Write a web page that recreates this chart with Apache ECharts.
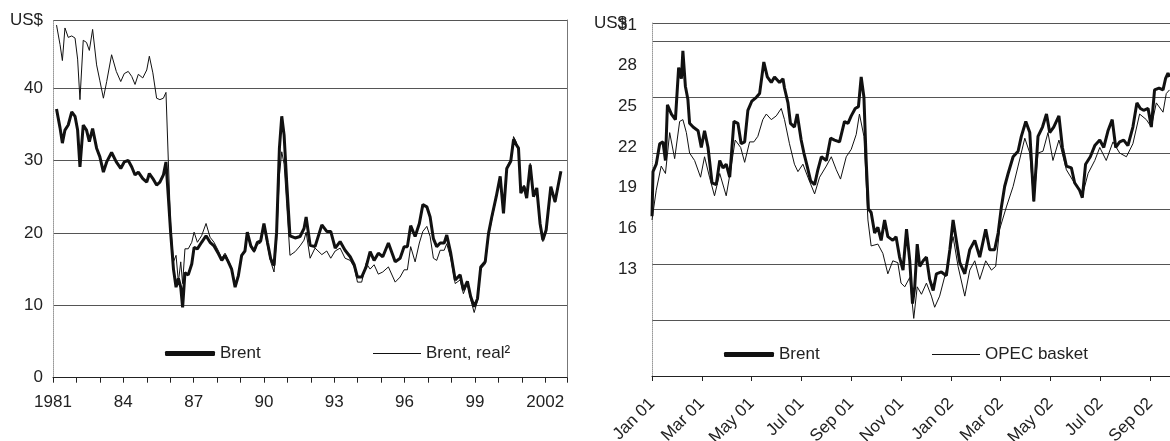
<!DOCTYPE html>
<html><head><meta charset="utf-8">
<script src="https://cdn.jsdelivr.net/npm/echarts@6/dist/echarts.min.js"></script>
<style>html,body{margin:0;padding:0;background:#fff}#c{width:1170px;height:441px}</style>
</head><body><div id="c"></div>
<script>
// ---------- Left chart: Brent, nominal and real (US$), 1981-2002 ----------
const leftTimes = [
  1981.15,1981.3,1981.4,1981.51,1981.65,1981.8,1981.94,
  1982.05,1982.15,1982.29,1982.43,1982.55,1982.69,1982.86,
  1983.0,1983.15,1983.29,1983.5,1983.7,1983.89,
  1984.04,1984.21,1984.36,1984.5,1984.64,1984.83,
  1985.0,1985.11,1985.26,1985.42,1985.56,1985.71,1985.82,1985.92,
  1986.02,1986.14,1986.25,1986.35,1986.45,1986.53,1986.63,1986.77,1986.92,
  1987.02,1987.16,1987.34,1987.53,1987.7,1987.87,
  1988.06,1988.2,1988.34,1988.48,1988.62,1988.77,1988.91,
  1989.05,1989.19,1989.29,1989.44,1989.58,1989.72,1989.86,
  1990.0,1990.15,1990.29,1990.43,1990.54,1990.66,1990.76,1990.86,1990.97,
  1991.11,1991.33,1991.54,1991.71,1991.8,1991.97,
  1992.18,1992.47,1992.68,1992.85,
  1993.04,1993.25,1993.46,1993.68,1993.85,1993.99,
  1994.17,1994.36,1994.53,1994.7,1994.88,
  1995.07,1995.31,1995.6,1995.81,1995.98,
  1996.12,1996.26,1996.45,1996.63,1996.78,1996.95,
  1997.09,1997.23,1997.37,1997.52,1997.69,1997.8,1997.97,
  1998.16,1998.37,1998.51,1998.68,1998.82,1998.97,
  1999.11,1999.25,1999.44,1999.58,1999.72,1999.91,
  2000.08,2000.22,2000.36,2000.53,2000.65,2000.76,2000.86,2000.96,
  2001.1,2001.21,2001.36,2001.5,2001.64,2001.78,2001.9,
  2002.04,2002.24,2002.42,2002.67
];
const brentNominal = [
  37.1,34.5,32.4,34.2,34.9,36.7,36.1,
  34.2,29.1,34.9,34.2,32.6,34.4,31.7,
  30.5,28.4,29.8,31.1,29.8,28.9,
  29.8,30.0,29.1,28.0,28.4,27.5,
  27.0,28.2,27.5,26.6,27.0,28.0,29.8,25.0,
  20.0,15.0,12.5,13.7,12.5,9.7,14.5,14.2,15.7,
  18.0,17.8,18.7,19.6,18.7,18.2,
  17.1,16.2,16.9,16.0,15.0,12.5,14.1,
  16.9,17.5,20.1,18.2,17.5,18.7,18.9,
  21.3,18.7,16.4,15.5,20.1,31.7,36.1,33.5,27.0,
  19.6,19.3,19.5,20.6,22.2,18.3,
  18.1,21.1,20.2,20.2,
  17.9,18.8,17.6,16.7,15.6,13.9,
  13.9,15.3,17.4,16.2,17.2,
  16.7,18.6,16.0,16.5,18.1,
  18.1,21.0,19.5,21.3,23.9,23.6,
  22.2,19.2,18.1,18.6,18.6,19.7,17.2,
  13.5,14.2,12.1,13.3,11.2,9.8,
  10.9,15.3,16.0,19.9,22.2,25.0,
  27.8,22.7,28.9,29.9,32.9,32.2,31.7,25.5,
  26.4,24.8,29.4,25.0,26.2,21.3,19.0,
  20.4,26.4,24.3,28.5
];
const brentReal = [
  48.7,46.0,43.8,48.3,47.0,47.2,46.9,
  44.0,38.4,46.6,46.3,45.2,48.1,43.2,
  41.0,38.6,40.9,44.6,42.3,40.9,
  42.0,42.3,41.6,40.5,41.9,41.4,
  42.5,44.4,42.1,38.6,38.4,38.6,39.4,30.0,
  21.0,16.0,16.9,13.2,16.0,13.0,17.8,17.8,18.7,
  20.1,18.7,19.6,21.3,19.4,18.7,
  17.5,16.5,17.2,16.2,15.2,12.8,14.3,
  17.0,17.6,20.0,18.0,17.3,18.4,18.6,
  20.8,18.2,16.0,14.6,19.0,28.0,31.2,29.5,24.0,
  16.9,17.4,18.2,19.0,20.1,16.5,
  17.9,17.0,17.5,16.5,
  17.5,17.9,16.5,16.2,15.3,13.2,
  13.2,15.8,15.0,15.6,14.3,
  14.6,15.3,13.2,13.9,14.9,
  14.9,18.1,16.0,18.6,20.2,20.9,
  19.5,16.5,16.2,17.6,17.6,18.5,16.5,
  13.0,13.5,11.6,13.0,10.8,9.0,
  10.6,15.0,15.7,19.5,21.8,24.8,
  27.6,23.0,29.0,30.2,33.3,32.6,31.5,25.6,
  26.6,25.0,29.6,25.3,26.0,21.0,18.8,
  20.2,26.2,24.2,28.3
];
const leftYTicks = [0, 10, 20, 30, 40];
const leftXLabelYears = [1981, 1984, 1987, 1990, 1993, 1996, 1999, 2002];
const leftXLabels = ['1981', '84', '87', '90', '93', '96', '99', '2002'];

// ---------- Right chart: Brent and OPEC basket, Jan 2001 - Sep 2002 (months since Jan 01) ----------
const brentMonths = [
  0.00,0.04,0.17,0.31,0.44,0.54,0.62,0.78,0.94,1.07,
  1.18,1.24,1.34,1.44,1.51,1.65,1.85,1.98,2.11,2.25,
  2.41,2.58,2.72,2.85,2.98,3.12,3.29,3.45,3.58,3.72,
  3.85,4.01,4.19,4.32,4.49,4.63,4.79,4.92,5.12,5.26,
  5.32,5.46,5.56,5.72,5.83,5.99,6.10,6.23,6.37,6.53,
  6.66,6.80,7.00,7.17,7.33,7.53,7.73,7.87,8.00,8.16,
  8.29,8.40,8.51,8.60,8.69,8.80,8.94,9.07,9.20,9.34,
  9.47,9.67,9.80,9.94,10.08,10.22,10.35,10.46,10.55,10.65,
  10.75,10.89,11.02,11.15,11.29,11.42,11.62,11.82,11.96,12.09,
  12.22,12.36,12.56,12.76,12.96,13.16,13.40,13.56,13.76,13.90,
  14.03,14.16,14.30,14.50,14.70,14.83,15.01,15.17,15.33,15.50,
  15.68,15.84,15.97,16.13,16.34,16.48,16.64,16.84,16.97,17.17,
  17.28,17.41,17.60,17.78,17.98,18.14,18.31,18.48,18.62,18.78,
  18.94,19.11,19.31,19.47,19.61,19.74,19.92,20.05,20.18,20.36,
  20.52,20.62,20.72,20.78
];
const brentPrices = [
  21.6,24.0,24.4,25.5,25.6,24.6,27.6,27.1,26.8,29.6,
  29.0,30.5,28.6,27.9,26.6,26.4,26.2,25.3,26.2,25.3,
  23.4,23.3,24.6,24.2,24.4,23.7,26.7,26.6,25.5,25.6,
  27.3,27.8,28.0,28.2,29.9,29.1,28.8,29.1,28.8,29.0,
  28.5,27.7,26.6,26.4,27.1,25.7,25.0,24.3,23.5,23.3,
  24.1,24.8,24.6,25.8,25.7,25.6,26.7,26.6,27.0,27.4,
  27.5,29.1,28.0,24.6,22.0,21.8,20.7,21.0,20.3,21.4,
  20.5,20.3,20.5,19.4,18.7,20.9,19.2,16.9,17.8,20.1,
  18.9,19.2,19.4,18.2,17.6,18.5,18.6,18.4,19.8,21.4,
  20.3,19.1,18.5,19.8,20.3,19.4,20.9,19.8,19.8,20.7,
  22.1,23.2,23.9,24.8,25.1,25.9,26.7,26.1,22.4,25.9,
  26.4,27.1,26.1,26.4,27.0,25.3,24.3,24.2,23.4,23.0,
  22.6,24.4,24.8,25.4,25.7,25.3,26.2,26.8,25.3,25.6,
  25.7,25.4,26.4,27.7,27.4,27.3,27.4,26.4,28.4,28.5,
  28.4,29.0,29.3,29.1
];
const opecMonths = [
  0.00,0.17,0.37,0.54,0.71,0.91,1.11,1.24,1.38,1.51,
  1.71,1.95,2.11,2.31,2.51,2.72,2.98,3.16,3.34,3.56,
  3.72,3.92,4.09,4.25,4.45,4.59,4.79,4.99,5.19,5.32,
  5.52,5.72,5.86,6.06,6.26,6.53,6.73,7.00,7.20,7.40,
  7.57,7.80,8.00,8.20,8.33,8.51,8.67,8.80,9.07,9.27,
  9.47,9.67,9.87,10.00,10.15,10.35,10.51,10.65,10.82,11.02,
  11.22,11.35,11.55,11.82,12.09,12.29,12.56,12.76,12.96,13.16,
  13.40,13.63,13.80,13.96,14.23,14.50,14.70,14.97,15.17,15.33,
  15.50,15.70,15.90,16.10,16.34,16.64,16.91,17.17,17.28,17.51,
  17.78,17.98,18.24,18.51,18.78,19.05,19.31,19.58,19.85,20.05,
  20.25,20.52,20.65,20.78
];
const opecPrices = [
  21.4,23.0,24.3,23.9,26.1,24.7,26.7,26.8,26.1,25.0,
  24.6,23.7,24.8,23.7,22.7,23.9,22.7,24.1,25.7,25.3,
  24.5,25.6,25.6,25.9,26.8,27.1,26.8,27.0,27.4,26.8,
  25.5,24.4,24.0,24.4,23.7,22.8,23.7,24.3,24.8,24.1,
  23.6,24.8,25.2,26.0,27.1,25.9,21.4,20.0,20.1,19.6,
  18.5,19.2,19.1,18.0,17.8,18.3,16.1,17.8,17.4,18.0,
  17.3,16.7,17.3,18.7,20.5,18.9,17.3,18.7,19.2,18.2,
  19.2,18.7,18.9,20.9,22.1,23.2,24.3,25.8,25.0,22.4,
  25.0,25.1,26.1,24.6,25.7,24.1,23.5,23.0,22.7,23.9,
  24.6,25.3,24.6,25.6,25.0,24.8,25.5,27.1,26.8,26.4,
  27.7,27.2,28.2,28.4
];
const rightXLabels = ['Jan 01','Mar 01','May 01','Jul 01','Sep 01','Nov 01','Jan 02','Mar 02','May 02','Jul 02','Sep 02'];
const rightYLabels = [13, 16, 19, 22, 25, 28, 31];

// ---------- build ----------
const FONT = 'Liberation Sans, Arial, Helvetica, sans-serif';
const TXT = '#222';
const LINE = '#111';
const GRIDC = '#555';
const pairs = (xs, ys) => xs.slice(0, Math.min(xs.length, ys.length)).map((x, i) => [x, ys[i]]);

const chart = echarts.init(document.getElementById('c'), null, {renderer: 'canvas'});
const labelStyle = {fontSize: 17, color: TXT, fontFamily: FONT};

const option = {
  animation: false,
  backgroundColor: '#fff',
  grid: [
    {left: 53, top: 20, width: 514, height: 357.7, containLabel: false, outerBoundsMode: 'none'},
    {left: 652, top: 23, width: 518, height: 353, containLabel: false, outerBoundsMode: 'none'},
    {left: 652, top: 25, width: 518, height: 244, containLabel: false, outerBoundsMode: 'none'}
  ],
  xAxis: [
    {
      gridIndex: 0, type: 'value', min: 1981, max: 2002.93, interval: 1,
      axisLine: {show: true, lineStyle: {color: '#222', width: 1}},
      axisTick: {show: true, length: 5, lineStyle: {color: '#222'}},
      splitLine: {show: false},
      axisLabel: Object.assign({margin: 16, showMaxLabel: true,
        formatter: v => { const k = leftXLabelYears.indexOf(Math.round(v * 100) / 100); return k >= 0 ? leftXLabels[k] : ''; }
      }, labelStyle)
    },
    {
      gridIndex: 1, type: 'value', min: 0, max: 20.8, interval: 2,
      axisLine: {show: true, lineStyle: {color: '#222', width: 1}},
      axisTick: {show: true, length: 5, lineStyle: {color: '#222'}},
      splitLine: {show: false},
      axisLabel: Object.assign({margin: 25, rotate: 45,
        formatter: v => { if (Math.abs(v - Math.round(v)) > 1e-6 || Math.round(v) % 2) return ''; const k = Math.round(v) / 2; return rightXLabels[k] || ''; }
      }, labelStyle)
    },
    {gridIndex: 2, type: 'value', min: 0, max: 1, show: false}
  ],
  yAxis: [
    {
      gridIndex: 0, type: 'value', min: 0, max: 49.4, interval: 10,
      name: 'US$', nameLocation: 'end', nameGap: 0,
      nameTextStyle: {fontSize: 17, color: TXT, fontFamily: FONT, align: 'right', verticalAlign: 'middle', padding: [0, 10, 0, 0]},
      axisLine: {show: true, lineStyle: {color: '#999', type: 'dotted', width: 1}},
      axisTick: {show: false},
      splitLine: {show: true, lineStyle: {color: GRIDC, width: 1}},
      axisLabel: Object.assign({margin: 10, formatter: v => leftYTicks.indexOf(v) >= 0 ? String(v) : ''}, labelStyle)
    },
    {
      gridIndex: 0, type: 'value', position: 'right', min: 0, max: 49.4,
      axisLine: {show: true, lineStyle: {color: '#777', width: 1}},
      axisTick: {show: false}, axisLabel: {show: false}, splitLine: {show: false}
    },
    {
      gridIndex: 1, type: 'value', min: 13, max: 32, interval: 3,
      name: 'US$', nameLocation: 'end', nameGap: 0,
      nameTextStyle: {fontSize: 17, color: TXT, fontFamily: FONT, align: 'right', verticalAlign: 'middle', padding: [0, 25, 0, 0]},
      axisLine: {show: true, lineStyle: {color: '#999', type: 'dotted', width: 1}},
      axisTick: {show: false},
      axisLabel: {show: false},
      splitLine: {show: true, lineStyle: {color: GRIDC, width: 1}}
    },
    {
      gridIndex: 2, type: 'value', min: 13, max: 31, interval: 3,
      axisLine: {show: false}, axisTick: {show: false}, splitLine: {show: false},
      axisLabel: Object.assign({margin: 15, formatter: v => rightYLabels.indexOf(v) >= 0 ? String(v) : ''}, labelStyle)
    }
  ],
  legend: [
    {data: [{name: 'Brent', icon: 'roundRect'}], left: 160, top: 340, itemWidth: 50, itemHeight: 5, itemGap: 0,
     selectedMode: false, textStyle: labelStyle},
    {data: [{name: 'Brent, real²', icon: 'rect'}], left: 368, top: 340, itemWidth: 48, itemHeight: 1, itemGap: 0,
     selectedMode: false, textStyle: labelStyle},
    {data: [{name: 'Brent', icon: 'roundRect'}], left: 719, top: 341, itemWidth: 50, itemHeight: 5, itemGap: 0,
     selectedMode: false, textStyle: labelStyle},
    {data: [{name: 'OPEC basket', icon: 'rect'}], left: 927, top: 341, itemWidth: 48, itemHeight: 1, itemGap: 0,
     selectedMode: false, textStyle: labelStyle}
  ],
  series: [
    {name: 'Brent', type: 'line', xAxisIndex: 0, yAxisIndex: 0, symbol: 'none', color: LINE,
     lineStyle: {width: 3, color: LINE}, data: pairs(leftTimes, brentNominal), z: 3},
    {name: 'Brent, real²', type: 'line', xAxisIndex: 0, yAxisIndex: 0, symbol: 'none', color: LINE,
     lineStyle: {width: 1, color: LINE}, data: pairs(leftTimes, brentReal), z: 4},
    {name: 'Brent', type: 'line', xAxisIndex: 1, yAxisIndex: 2, symbol: 'none', color: LINE,
     lineStyle: {width: 3, color: LINE}, data: pairs(brentMonths, brentPrices), z: 3},
    {name: 'OPEC basket', type: 'line', xAxisIndex: 1, yAxisIndex: 2, symbol: 'none', color: LINE,
     lineStyle: {width: 1, color: LINE}, data: pairs(opecMonths, opecPrices), z: 4}
  ]
};
chart.setOption(option);
</script>
</body></html>
